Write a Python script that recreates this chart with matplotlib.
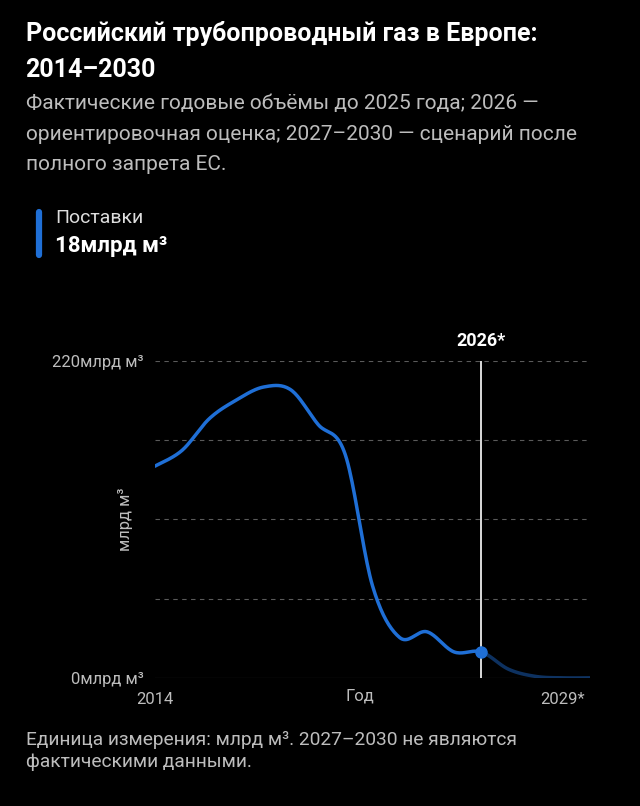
import numpy as np
import matplotlib
matplotlib.use("Agg")
import matplotlib.pyplot as plt

years = [2014,2015,2016,2017,2018,2019,2020,2021,2022,2023,2024,2025,2026,2027,2028,2029,2030]
values = [147,158,180,193,202,200,176,155,64,28,32,18,18,6,1,0,0]
y_ticks = [0,55,110,165,220]
BG = "#000000"; BLUE = "#1f6fd6"

def smooth(x, y, n=20):
    x = np.asarray(x, float); y = np.asarray(y, float)
    P = np.column_stack([x, y])
    P = np.vstack([P[0], P, P[-1]])
    out = []
    for i in range(1, len(P)-2):
        p0,p1,p2,p3 = P[i-1],P[i],P[i+1],P[i+2]
        for t in np.linspace(0,1,n,endpoint=False):
            t2=t*t; t3=t2*t
            out.append(0.5*((2*p1)+(-p0+p2)*t+(2*p0-5*p1+4*p2-p3)*t2+(-p0+3*p1-3*p2+p3)*t3))
    out.append(P[-2])
    out = np.array(out)
    return out[:,0], out[:,1]

fig = plt.figure(figsize=(6.4,8.06), dpi=100, facecolor=BG)
fig.text(0.04, 1-33/806, "Российский трубопроводный газ в Европе:", color="white", fontsize=18, fontweight="bold", family="Roboto", va="center")
fig.text(0.04, 1-70/806, "2014–2030", color="white", fontsize=18, fontweight="bold", family="Roboto", va="center")
sub = ["Фактические годовые объёмы до 2025 года; 2026 —",
       "ориентировочная оценка; 2027–2030 — сценарий после",
       "полного запрета ЕС."]
for i, line in enumerate(sub):
    fig.text(0.04, 1 - (103 + 31*i)/806, line, color="#bdbdbd", fontsize=15, family="Roboto", va="center")
fig.add_artist(plt.Line2D([0.061,0.061],[1-212/806,1-255/806], color=BLUE, lw=4.5, solid_capstyle="round"))
fig.text(0.086, 1-218/806, "Поставки", color="#dddddd", fontsize=14, family="Roboto", va="center")
fig.text(0.086, 1-246/806, "18млрд м³", color="white", fontsize=16, fontweight="bold", family="Roboto", va="center")
fig.text(0.04, 0.068, "Единица измерения: млрд м³. 2027–2030 не являются\nфактическими данными.", color="#bdbdbd", fontsize=13.8, family="Roboto", va="center", linespacing=1.3)

ax = fig.add_axes([0.242, 0.159, 0.68, 0.393], facecolor=BG)
ax.set_xlim(2014, 2030); ax.set_ylim(0, 220)
for v in y_ticks:
    ax.axhline(v, color="#5a5a5a", lw=0.8, ls=(0,(4,4)) if v else "-", zorder=0)
sx, sy = smooth(years, values)
m = sx <= 2026
ax.plot(sx[m], sy[m], color=BLUE, lw=2.5, solid_capstyle="round")
ax.plot(sx[sx >= 2026], sy[sx >= 2026], color=BLUE, lw=2.5, alpha=0.45)
ax.axvline(2026, color="white", lw=1.2)
ax.plot([2026],[values[years.index(2026)]], "o", color=BLUE, ms=8, mec=BLUE, zorder=5)
ax.text(2026, 228, "2026*", color="white", fontsize=13, fontweight="bold", family="Roboto", ha="center", va="bottom")
for s in ax.spines.values(): s.set_visible(False)
ax.set_yticks([0,220]); ax.set_yticklabels(["0млрд м³","220млрд м³"], color="#bdbdbd", fontsize=12, family="Roboto")
ax.set_xticks([2014,2029]); ax.set_xticklabels(["2014","2029*"], color="#bdbdbd", fontsize=12, family="Roboto")
ax.tick_params(axis="x", length=0, pad=10)
ax.tick_params(axis="y", length=0, pad=8)
ax.set_xlabel("Год", color="#bdbdbd", fontsize=12, family="Roboto")
ax.xaxis.set_label_coords(0.47, -0.035)
ax.set_ylabel("млрд м³", color="#bdbdbd", fontsize=12, family="Roboto")
ax.yaxis.set_label_coords(-0.05, 0.5)
fig.savefig("out.png", dpi=100, facecolor=BG)
